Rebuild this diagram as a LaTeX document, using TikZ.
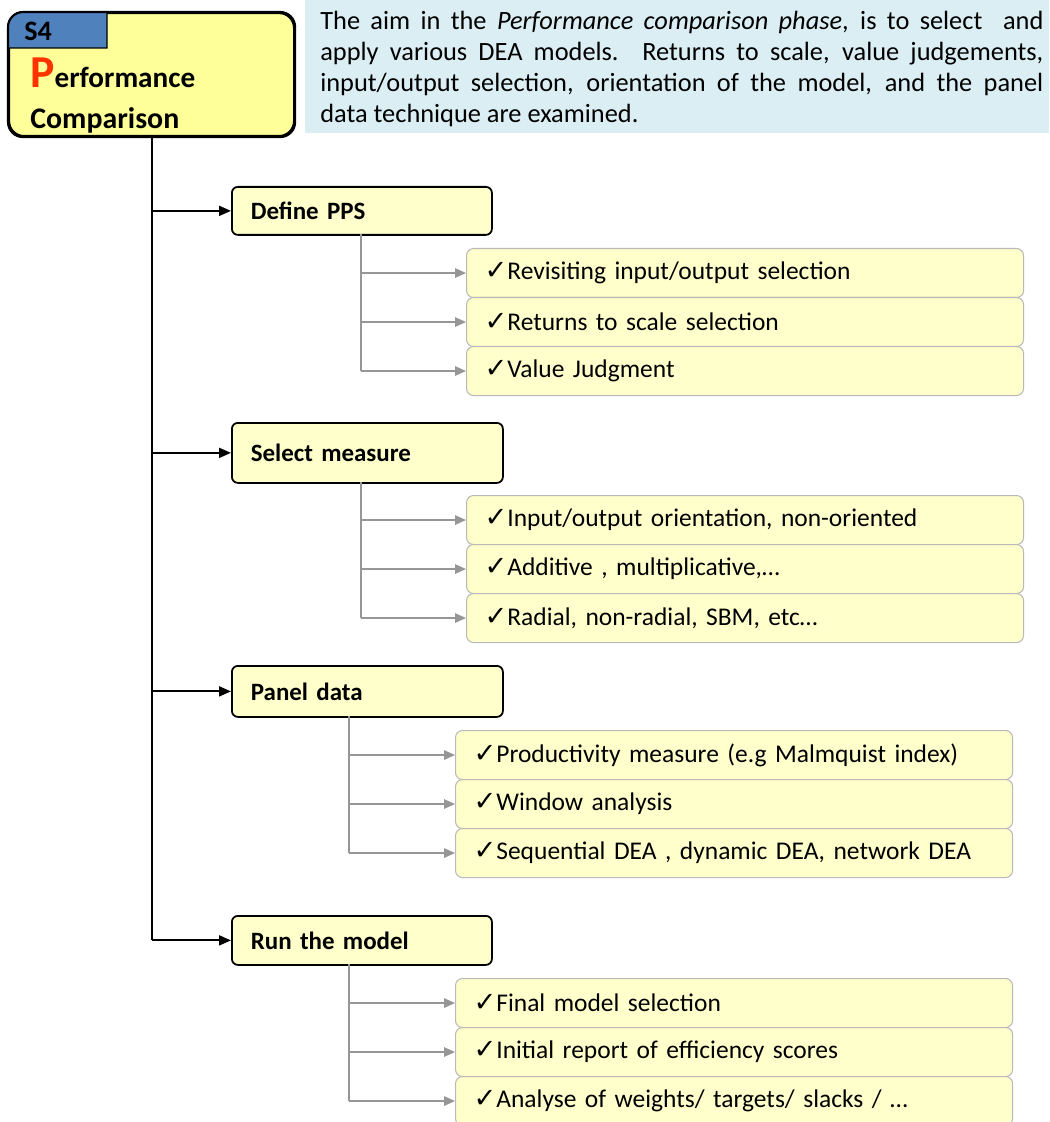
\documentclass[tikz,border=0pt]{standalone}
\usepackage{fontspec}
\setmainfont{Carlito}
\newfontfamily\symfont{DejaVu Sans}
\usetikzlibrary{arrows.meta}
\definecolor{mainyellow}{RGB}{255,255,153}
\definecolor{boxyellow}{RGB}{255,255,204}
\definecolor{s4blue}{RGB}{79,129,189}
\definecolor{pred}{RGB}{255,51,0}
\definecolor{descbg}{RGB}{219,238,243}
\definecolor{linegray}{RGB}{150,150,150}
\definecolor{itemgray}{RGB}{185,185,185}
\newcommand{\tick}{{\symfont\fontsize{15.5}{16}\selectfont ✓}}
\tikzset{
  stagebox/.style={draw, line width=1pt, fill=boxyellow, rounded corners=1.2mm, anchor=north west,
    font=\fontsize{14.2}{16}\selectfont\bfseries, align=left, inner xsep=3.8mm, inner ysep=0pt},
  itembox/.style={draw=itemgray, line width=0.6pt, fill=boxyellow, rounded corners=1.4mm, anchor=north west,
    font=\fontsize{14.5}{16}\selectfont, align=left, text width=104.2mm, inner xsep=3.6mm, inner ysep=0pt, minimum height=9.8mm},
  mainarrow/.style={line width=1.1pt, -{Triangle[length=2.4mm,width=2mm]}},
  subarrow/.style={draw=linegray, line width=0.8pt, -{Triangle[length=2.2mm,width=1.9mm]}}
}
\begin{document}
\begin{tikzpicture}[x=0.2mm,y=-0.2mm]
\useasboundingbox (0,0) rectangle (1049,1122);
% header
\node[draw, line width=1.2pt, fill=mainyellow, rounded corners=3mm, anchor=north west,
  minimum width=57mm, minimum height=24.6mm, inner sep=0pt] (main) at (8,12) {};
\draw[fill=s4blue, line width=0.8pt] (8,48) [rounded corners=3mm] -- (8,12) [sharp corners] -- (107,12) -- (107,48) -- cycle;
\draw[line width=1.2pt, rounded corners=3mm] (main.north west) rectangle (main.south east);
\node[anchor=west, font=\fontsize{16}{18}\selectfont\bfseries, inner sep=0pt] (s4) at (24,31) {S4};
\node[anchor=north west, align=left, font=\fontsize{16.6}{22.8}\selectfont\bfseries, inner sep=0pt] (title) at (30,58)
  {{\color{pred}\fontsize{26}{22.8}\selectfont P}erformance\\{\fontsize{17}{22.8}\selectfont Comparison}};
\fill[descbg] (305,0) rectangle (1049,133);
\node[anchor=north west, text width=144.6mm, align=justify, font=\fontsize{15}{17.6}\selectfont, inner sep=0pt] (aim) at (320,11)
  {The aim in the \textit{Performance comparison phase}, is to select\ \ and\linebreak apply various DEA models. Returns to scale, value judgements,\linebreak input/output selection, orientation of the model, and the panel\linebreak data technique are examined.};

% stages
\node[stagebox, text width=44.4mm, minimum height=9.6mm] (pps) at (231,186) {Define PPS};
\node[stagebox, text width=46.6mm, minimum height=12mm] (measure) at (231,422) {Select measure};
\node[stagebox, text width=46.6mm, minimum height=10.2mm] (panel) at (231,665) {Panel data};
\node[stagebox, text width=44.4mm, minimum height=9.8mm] (run) at (231,915) {Run the model};

\draw[line width=1.1pt] (main.south) -- (main.south |- run.west);
\draw[mainarrow] (main.south |- pps.west) -- (pps.west);
\draw[mainarrow] (main.south |- measure.west) -- (measure.west);
\draw[mainarrow] (main.south |- panel.west) -- (panel.west);
\draw[mainarrow] (main.south |- run.west) -- (run.west);

% items
\node[itembox] (pps1) at (466,248) {\tick Revisiting input/output selection};
\node[itembox] (pps2) at (466,297) {\tick Returns to scale selection};
\node[itembox] (pps3) at (466,346) {\tick Value Judgment};
\node[itembox] (mes1) at (466,495) {\tick Input/output orientation, non-oriented};
\node[itembox] (mes2) at (466,544) {\tick Additive , multiplicative,…};
\node[itembox] (mes3) at (466,593) {\tick Radial, non-radial, SBM, etc…};
\node[itembox] (pan1) at (455,730) {\tick Productivity measure (e.g Malmquist index)};
\node[itembox] (pan2) at (455,779) {\tick Window analysis};
\node[itembox] (pan3) at (455,828) {\tick Sequential DEA , dynamic DEA, network DEA};
\node[itembox] (run1) at (455,978) {\tick Final model selection};
\node[itembox] (run2) at (455,1027) {\tick Initial report of efficiency scores};
\node[itembox] (run3) at (455,1076) {\tick Analyse of weights/ targets/ slacks / …};

\coordinate (ppsb) at (361,234);
\coordinate (mesb) at (361,482);
\coordinate (panb) at (349,716);
\coordinate (runb) at (349,964);
\draw[linegray, line width=0.8pt] (ppsb) -- (ppsb |- pps3.west);
\draw[linegray, line width=0.8pt] (mesb) -- (mesb |- mes3.west);
\draw[linegray, line width=0.8pt] (panb) -- (panb |- pan3.west);
\draw[linegray, line width=0.8pt] (runb) -- (runb |- run3.west);
\draw[subarrow] (ppsb |- pps1.west) -- (pps1.west);
\draw[subarrow] (ppsb |- pps2.west) -- (pps2.west);
\draw[subarrow] (ppsb |- pps3.west) -- (pps3.west);
\draw[subarrow] (mesb |- mes1.west) -- (mes1.west);
\draw[subarrow] (mesb |- mes2.west) -- (mes2.west);
\draw[subarrow] (mesb |- mes3.west) -- (mes3.west);
\draw[subarrow] (panb |- pan1.west) -- (pan1.west);
\draw[subarrow] (panb |- pan2.west) -- (pan2.west);
\draw[subarrow] (panb |- pan3.west) -- (pan3.west);
\draw[subarrow] (runb |- run1.west) -- (run1.west);
\draw[subarrow] (runb |- run2.west) -- (run2.west);
\draw[subarrow] (runb |- run3.west) -- (run3.west);
\end{tikzpicture}
\end{document}
